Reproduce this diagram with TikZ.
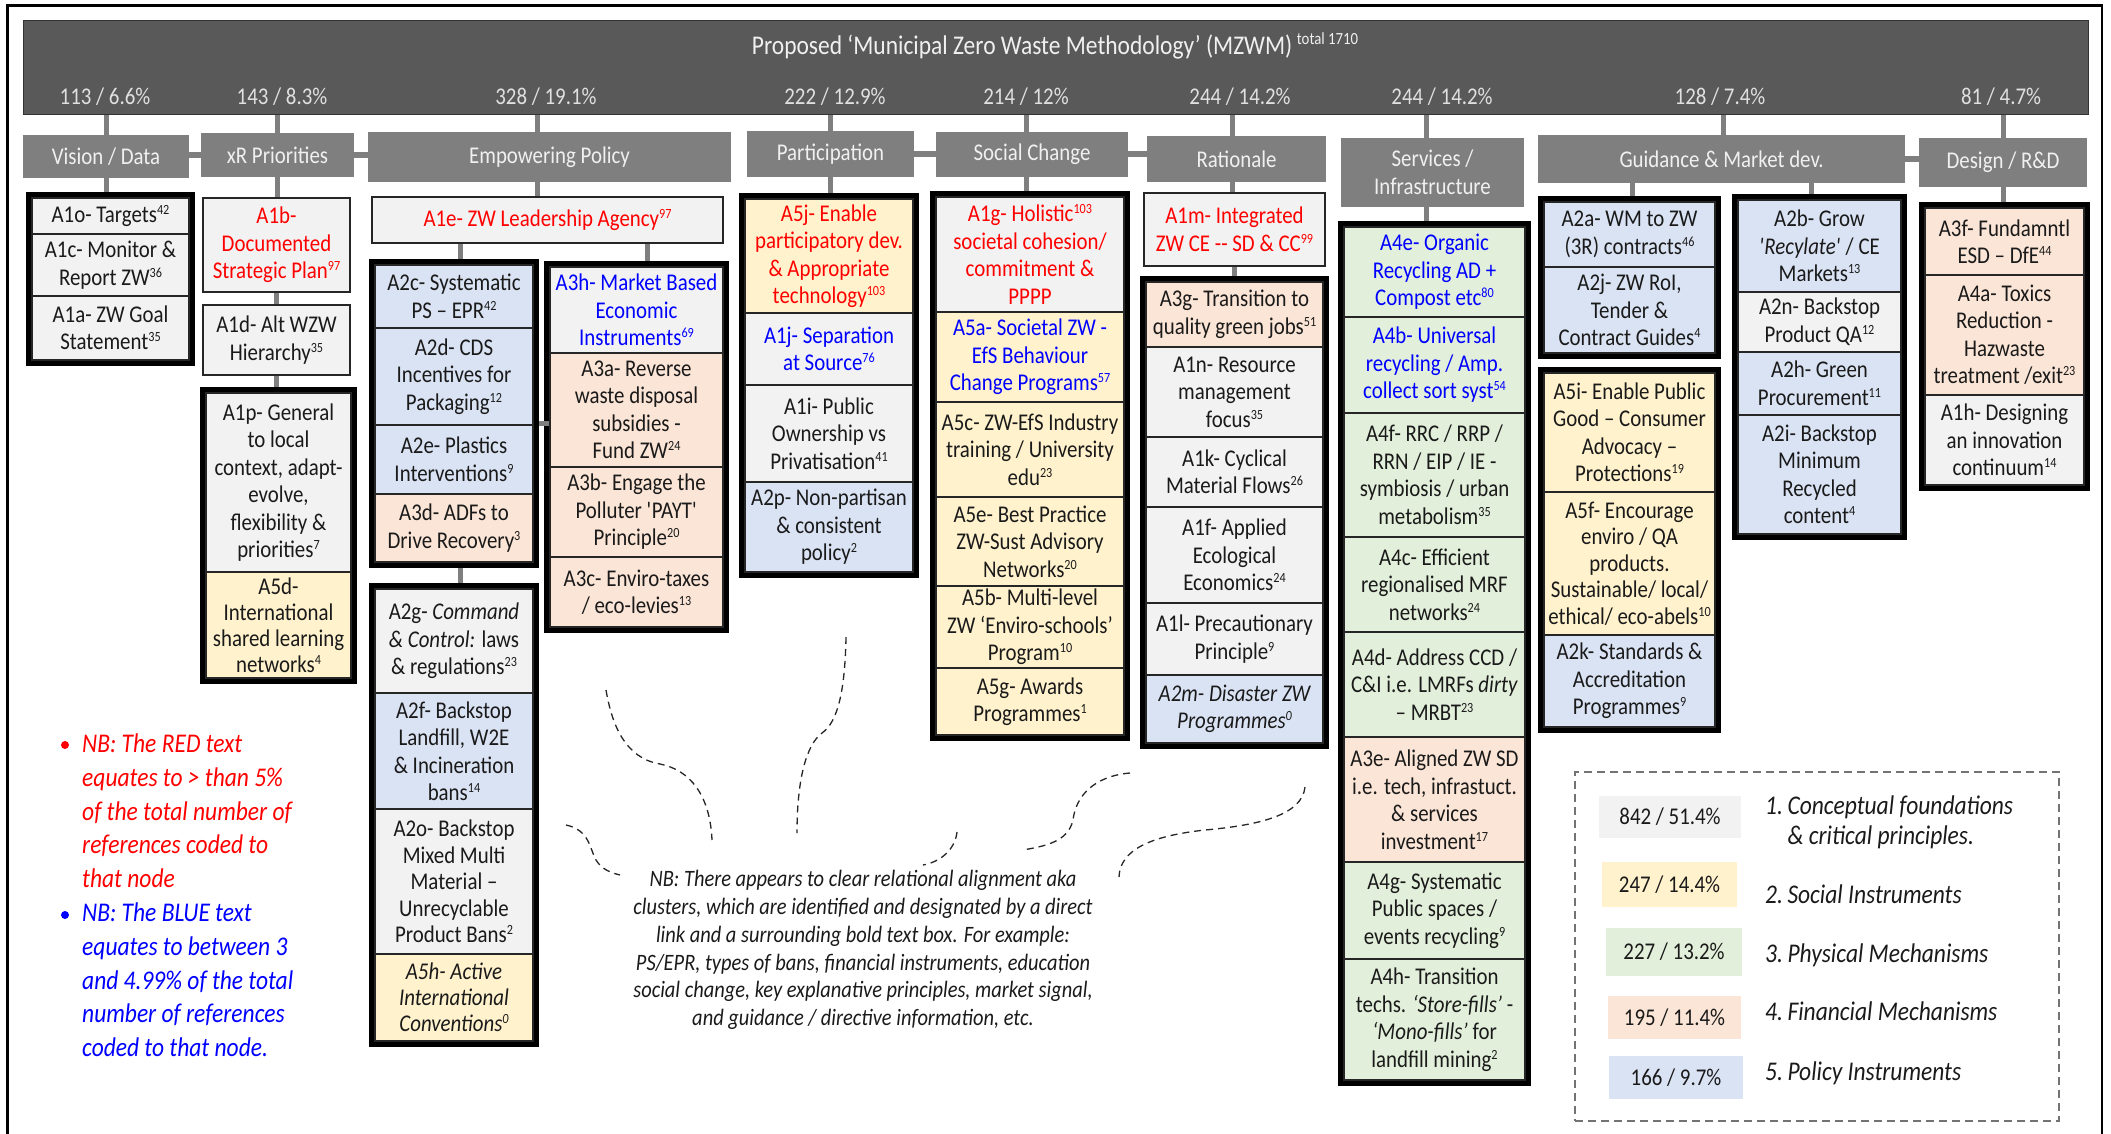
\documentclass[tikz,border=0pt]{standalone}
\usepackage{fontspec}
\setmainfont{Carlito}[FakeStretch=0.87]
\usetikzlibrary{fit}

\definecolor{titlegray}{HTML}{595959}
\definecolor{hdrgray}{HTML}{7F7F7F}
\definecolor{conngray}{HTML}{7F7F7F}
\definecolor{cgray}{HTML}{F2F2F2}
\definecolor{cyellow}{HTML}{FFF2CC}
\definecolor{cgreen}{HTML}{E2EFDA}
\definecolor{cpeach}{HTML}{FBE5D6}
\definecolor{cblue}{HTML}{DAE3F3}
\definecolor{zred}{HTML}{FF0000}
\definecolor{zblue}{HTML}{0000FF}
\definecolor{ink}{HTML}{1A1A1A}

% font sizes (1pt = one unit of the drawing grid)
\newcommand\bxf{\fontsize{24}{27.5}\selectfont}
\newcommand\nbf{\fontsize{27}{33.7}\selectfont\itshape}
\newcommand\midf{\fontsize{23.5}{27.8}\selectfont\itshape}
\newcommand\lgf{\fontsize{27}{30}\selectfont\itshape}
\newcommand\ttlf{\fontsize{27}{30}\selectfont}
\newcommand\supn[1]{\raisebox{8pt}{\fontsize{14}{14}\selectfont #1}}
\newcommand\supt[1]{\raisebox{10pt}{\fontsize{17}{17}\selectfont #1}}

\begin{document}
\begin{tikzpicture}[x=1pt,y=-1pt,
  spanbox/.style n args={4}{at={({(#1+#3)/2},{(#2+#4)/2})},
      minimum width={(#3-#1)*1pt}, minimum height={(#4-#2)*1pt}},
  cellbox/.style={draw=black!85, line width=1.4pt, inner sep=0pt, align=center, font=\bxf, text=ink},
  cg/.style={cellbox, fill=cgray},
  cy/.style={cellbox, fill=cyellow},
  cgn/.style={cellbox, fill=cgreen},
  cp/.style={cellbox, fill=cpeach},
  cb/.style={cellbox, fill=cblue},
  redtxt/.style={text=zred},
  bluetxt/.style={text=zblue},
  grp/.style={draw=black, line width=5pt, inner sep=2.5pt},
  hdr/.style={fill=hdrgray, text=white!94!black, inner sep=0pt, align=center, font=\bxf},
  conn/.style={draw=conngray, line width=5pt},
  cnt/.style={text=white!88!black, font=\bxf, inner sep=0pt},
  sw/.style={inner sep=0pt, font=\bxf, text=ink},
  lbl/.style={inner sep=0pt, font=\lgf, text=ink, align=left},
  curl/.style={draw=black!85, line width=1.3pt, dash pattern=on 7pt off 5pt}
]
\useasboundingbox (0,0) rectangle (2111,1134);

% outer frame
\draw[line width=2.5pt] (7.5,1160) -- (7.5,5.5) -- (2102,5.5) -- (2102,1160);

% title bar with totals
\node[fill=titlegray, draw=black!80, line width=1pt, inner sep=0pt, spanbox={23}{21}{2088}{115}] (title) {};
\node[text=white!94!black, font=\ttlf, inner sep=0pt] (ttltxt) at (1055,46)
  {Proposed ‘Municipal Zero Waste Methodology’ (MZWM)\,\supt{total 1710}};
\node[cnt] (n1) at (105,97) {113 / 6.6\%};
\node[cnt] (n2) at (282,97) {143 / 8.3\%};
\node[cnt] (n3) at (546,97) {328 / 19.1\%};
\node[cnt] (n4) at (835,97) {222 / 12.9\%};
\node[cnt] (n5) at (1026,97) {214 / 12\%};
\node[cnt] (n6) at (1240,97) {244 / 14.2\%};
\node[cnt] (n7) at (1442,97) {244 / 14.2\%};
\node[cnt] (n8) at (1720,97) {128 / 7.4\%};
\node[cnt] (n9) at (2001,97) {81 / 4.7\%};

% category headers
\node[hdr, spanbox={23}{135}{189}{178}] (hvis) {Vision / Data};
\node[hdr, spanbox={201}{133}{354}{177}] (hxr) {xR Priorities};
\node[hdr, spanbox={368}{132}{731}{182}] (hemp) {Empowering Policy};
\node[hdr, spanbox={747}{131}{914}{177}] (hpart) {Participation};
\node[hdr, spanbox={936}{132}{1128}{177}] (hsoc) {Social Change};
\node[hdr, spanbox={1147}{136}{1326}{182}] (hrat) {Rationale};
\node[hdr, spanbox={1341}{138}{1524}{207}] (hser) {Services /\\Infrastructure};
\node[hdr, spanbox={1538}{135}{1905}{183}] (hgui) {Guidance \& Market dev.};
\node[hdr, spanbox={1919}{138}{2087}{187}] (hdes) {Design / R\&D};

% ---- Vision / Data
\node[cg, spanbox={32}{198}{189}{234}] (a1o) {A1o- Targets\supn{42}};
\node[cg, spanbox={32}{234}{189}{296}] (a1c) {A1c- Monitor \&\\Report ZW\supn{36}};
\node[cg, spanbox={32}{296}{189}{360}] (a1a) {A1a- ZW Goal\\Statement\supn{35}};
\node[grp, fit=(a1o)(a1a)] (g1) {};

% ---- xR Priorities
\node[cg, redtxt, spanbox={203}{198}{350}{292}] (a1b) {A1b-\\Documented\\Strategic Plan\supn{97}};
\node[cg, spanbox={203}{305}{350}{375}] (a1d) {A1d- Alt WZW\\Hierarchy\supn{35}};
\node[cg, spanbox={206}{393}{351}{572}] (a1p) {A1p- General\\to local\\context, adapt-\\evolve,\\flexibility \&\\priorities\supn{7}};
\node[cy, spanbox={206}{572}{351}{678}, font=\fontsize{24}{26}\selectfont] (a5d) {A5d-\\International\\shared learning\\networks\supn{4}};
\node[grp, fit=(a1p)(a5d)] (g2) {};

% ---- Empowering Policy
\node[cg, redtxt, spanbox={372}{197}{723}{243}] (a1e) {A1e- ZW Leadership Agency\supn{97}};
\node[cb, spanbox={375}{265}{533}{328}] (a2c) {A2c- Systematic\\PS -- EPR\supn{42}};
\node[cb, spanbox={375}{328}{533}{425}] (a2d) {A2d- CDS\\Incentives for\\Packaging\supn{12}};
\node[cb, spanbox={375}{425}{533}{494}] (a2e) {A2e- Plastics\\Interventions\supn{9}};
\node[cp, spanbox={375}{494}{533}{562}] (a3d) {A3d- ADFs to\\Drive Recovery\supn{3}};
\node[grp, fit=(a2c)(a3d)] (g3a) {};
\node[cg, spanbox={375}{589}{533}{693}] (a2g) {A2g- \textit{Command}\\\textit{\& Control:} laws\\\& regulations\supn{23}};
\node[cb, spanbox={375}{693}{533}{809}] (a2f) {A2f- Backstop\\Landfill, W2E\\\& Incineration\\bans\supn{14}};
\node[cg, spanbox={375}{809}{533}{954}, font=\fontsize{24}{26.5}\selectfont] (a2o) {A2o- Backstop\\Mixed Multi\\Material --\\Unrecyclable\\Product Bans\supn{2}};
\node[cy, spanbox={375}{954}{533}{1041}, font=\fontsize{24}{26}\selectfont\itshape] (a5h) {A5h- Active\\International\\Conventions\supn{0}};
\node[grp, fit=(a2g)(a5h)] (g3b) {};
\node[cg, bluetxt, spanbox={550}{267}{723}{353}] (a3h) {A3h- Market Based\\Economic\\Instruments\supn{69}};
\node[cp, spanbox={550}{353}{723}{467}] (a3a) {A3a- Reverse\\waste disposal\\subsidies -\\Fund ZW\supn{24}};
\node[cp, spanbox={550}{467}{723}{557}] (a3b) {A3b- Engage the\\Polluter \textquotesingle PAYT\textquotesingle\\Principle\supn{20}};
\node[cp, spanbox={550}{557}{723}{627}] (a3c) {A3c- Enviro-taxes\\/ eco-levies\supn{13}};
\node[grp, fit=(a3h)(a3c)] (g3c) {};

% ---- Participation
\node[cy, redtxt, spanbox={745}{199}{913}{313}] (a5j) {A5j- Enable\\participatory dev.\\\& Appropriate\\technology\supn{103}};
\node[cg, bluetxt, spanbox={745}{313}{913}{385}] (a1j) {A1j- Separation\\at Source\supn{76}};
\node[cg, spanbox={745}{385}{913}{482}] (a1i) {A1i- Public\\Ownership vs\\Privatisation\supn{41}};
\node[cb, spanbox={745}{482}{913}{572}] (a2p) {A2p- Non-partisan\\\& consistent\\policy\supn{2}};
\node[grp, fit=(a5j)(a2p)] (g4) {};

% ---- Social Change
\node[cg, redtxt, spanbox={936}{197}{1124}{312}] (a1g) {A1g- Holistic\supn{103}\\societal cohesion/\\commitment \&\\PPPP};
\node[cy, bluetxt, spanbox={936}{312}{1124}{402}] (a5a) {A5a- Societal ZW -\\EfS Behaviour\\Change Programs\supn{57}};
\node[cy, spanbox={936}{402}{1124}{497}] (a5c) {A5c- ZW-EfS Industry\\training / University\\edu\supn{23}};
\node[cy, spanbox={936}{497}{1124}{586}] (a5e) {A5e- Best Practice\\ZW-Sust Advisory\\Networks\supn{20}};
\node[cy, spanbox={936}{586}{1124}{668}] (a5b) {A5b- Multi-level\\ZW ‘Enviro-schools’\\Program\supn{10}};
\node[cy, spanbox={936}{668}{1124}{735}] (a5g) {A5g- Awards\\Programmes\supn{1}};
\node[grp, fit=(a1g)(a5g)] (g5) {};

% ---- Rationale
\node[cg, redtxt, spanbox={1144}{193}{1325}{266}] (a1m) {A1m- Integrated\\ZW CE -{}- SD \& CC\supn{99}};
\node[cp, spanbox={1146}{282}{1323}{347}] (a3g) {A3g- Transition to\\quality green jobs\supn{51}};
\node[cg, spanbox={1146}{347}{1323}{437}] (a1n) {A1n- Resource\\management\\focus\supn{35}};
\node[cg, spanbox={1146}{437}{1323}{507}] (a1k) {A1k- Cyclical\\Material Flows\supn{26}};
\node[cg, spanbox={1146}{507}{1323}{603}] (a1f) {A1f- Applied\\Ecological\\Economics\supn{24}};
\node[cg, spanbox={1146}{603}{1323}{675}] (a1l) {A1l- Precautionary\\Principle\supn{9}};
\node[cb, spanbox={1146}{675}{1323}{743}, font=\bxf\itshape] (a2m) {A2m- Disaster ZW\\Programmes\supn{0}};
\node[grp, fit=(a3g)(a2m)] (g6) {};

% ---- Services / Infrastructure
\node[cgn, bluetxt, spanbox={1344}{227}{1525}{317}] (a4e) {A4e- Organic\\Recycling AD +\\Compost etc\supn{80}};
\node[cgn, bluetxt, spanbox={1344}{317}{1525}{413}] (a4b) {A4b- Universal\\recycling / Amp.\\collect sort syst\supn{54}};
\node[cgn, spanbox={1344}{413}{1525}{537}] (a4f) {A4f- RRC / RRP /\\RRN / EIP / IE -\\symbiosis / urban\\metabolism\supn{35}};
\node[cgn, spanbox={1344}{537}{1525}{632}] (a4c) {A4c- Efficient\\regionalised MRF\\networks\supn{24}};
\node[cgn, spanbox={1344}{632}{1525}{737}] (a4d) {A4d- Address CCD /\\C\&I i.e. LMRFs \textit{dirty}\\-- MRBT\supn{23}};
\node[cp, spanbox={1344}{737}{1525}{862}] (a3e) {A3e- Aligned ZW SD\\i.e. tech, infrastuct.\\\& services\\investment\supn{17}};
\node[cgn, spanbox={1344}{862}{1525}{959}] (a4g) {A4g- Systematic\\Public spaces /\\events recycling\supn{9}};
\node[cgn, spanbox={1344}{959}{1525}{1080}] (a4h) {A4h- Transition\\techs. \textit{‘Store-fills’} -\\\textit{‘Mono-fills’} for\\landfill mining\supn{2}};
\node[grp, fit=(a4e)(a4h)] (g7) {};

% ---- Guidance & Market dev.
\node[cb, spanbox={1544}{202}{1715}{267}] (a2a) {A2a- WM to ZW\\(3R) contracts\supn{46}};
\node[cb, spanbox={1544}{267}{1715}{353}] (a2j) {A2j- ZW RoI,\\Tender \&\\Contract Guides\supn{4}};
\node[grp, fit=(a2a)(a2j)] (g8a) {};
\node[cy, spanbox={1544}{373}{1715}{492}] (a5i) {A5i- Enable Public\\Good -- Consumer\\Advocacy --\\Protections\supn{19}};
\node[cy, spanbox={1544}{492}{1715}{635}, font=\fontsize{24}{26.5}\selectfont] (a5f) {A5f- Encourage\\enviro / QA\\products.\\Sustainable/ local/\\ethical/ eco-abels\supn{10}};
\node[cb, spanbox={1544}{635}{1715}{727}] (a2k) {A2k- Standards \&\\Accreditation\\Programmes\supn{9}};
\node[grp, fit=(a5i)(a2k)] (g8b) {};
\node[cb, spanbox={1738}{200}{1901}{292}] (a2b) {A2b- Grow\\\textit{\textquotesingle Recylate\textquotesingle} / CE\\Markets\supn{13}};
\node[cg, spanbox={1738}{292}{1901}{352}] (a2n) {A2n- Backstop\\Product QA\supn{12}};
\node[cb, spanbox={1738}{352}{1901}{415}] (a2h) {A2h- Green\\Procurement\supn{11}};
\node[cb, spanbox={1738}{415}{1901}{534}] (a2i) {A2i- Backstop\\Minimum\\Recycled\\content\supn{4}};
\node[grp, fit=(a2b)(a2i)] (g8c) {};

% ---- Design / R&D
\node[cp, spanbox={1925}{208}{2084}{275}] (a3f) {A3f- Fundamntl\\ESD -- DfE\supn{44}};
\node[cp, spanbox={1925}{275}{2084}{395}] (a4a) {A4a- Toxics\\Reduction -\\Hazwaste\\treatment /exit\supn{23}};
\node[cg, spanbox={1925}{395}{2084}{485}] (a1h) {A1h- Designing\\an innovation\\continuum\supn{14}};
\node[grp, fit=(a3f)(a1h)] (g9) {};

% ---- connectors: title bar to headers
\draw[conn] (hvis.north) -- (hvis.north |- title.south);
\draw[conn] (hxr.north) -- (hxr.north |- title.south);
\draw[conn] ([xshift=-12pt]hemp.north) -- ([xshift=-12pt]hemp.north |- title.south);
\draw[conn] (hpart.north) -- (hpart.north |- title.south);
\draw[conn] ([xshift=-6pt]hsoc.north) -- ([xshift=-6pt]hsoc.north |- title.south);
\draw[conn] ([xshift=-4pt]hrat.north) -- ([xshift=-4pt]hrat.north |- title.south);
\draw[conn] ([xshift=-6pt]hser.north) -- ([xshift=-6pt]hser.north |- title.south);
\draw[conn] ([xshift=2pt]hgui.north) -- ([xshift=2pt]hgui.north |- title.south);
\draw[conn] (hdes.north) -- (hdes.north |- title.south);

% header to header links
\draw[conn, line width=6pt] (hxr.west) -- (hxr.west -| hvis.east);
\draw[conn, line width=6pt] (hxr.east) -- (hxr.east -| hemp.west);
\draw[conn, line width=6pt] (hpart.east) -- (hpart.east -| hsoc.west);
\draw[conn, line width=6pt] (hsoc.east) -- (hsoc.east -| hrat.west);
\draw[conn, line width=6pt] (hgui.east) -- (hgui.east -| hdes.west);

% headers to boxes and clusters
\draw[conn] (hvis.south) -- (hvis.south |- g1.north);
\draw[conn] (hxr.south) -- (hxr.south |- a1b.north);
\draw[conn] (a1b.south) -- (a1b.south |- a1d.north);
\draw[conn] (a1d.south) -- (a1d.south |- g2.north);
\draw[conn] ([xshift=-12pt]hemp.south) -- ([xshift=-12pt]hemp.south |- a1e.north);
\draw[conn] ([xshift=6pt]g3a.north) -- ([xshift=6pt]g3a.north |- a1e.south);
\draw[conn] ([xshift=6pt]g3b.north) -- ([xshift=6pt]g3b.north |- g3a.south);
\draw[conn] ([xshift=11pt]g3c.north) -- ([xshift=11pt]g3c.north |- a1e.south);
\draw[conn] ([yshift=-13pt]a3a.west) -- ([yshift=-13pt]a3a.west -| g3a.east);
\draw[conn] (hpart.south) -- (hpart.south |- g4.north);
\draw[conn] ([xshift=-6pt]hsoc.south) -- ([xshift=-6pt]hsoc.south |- g5.north);
\draw[conn] ([xshift=-4pt]hrat.south) -- ([xshift=-4pt]hrat.south |- a1m.north);
\draw[conn] (a1m.south) -- (a1m.south |- g6.north);
\draw[conn] ([xshift=-6pt]hser.south) -- ([xshift=-6pt]hser.south |- g7.north);
\draw[conn] ([xshift=3pt]g8a.north) -- ([xshift=3pt]g8a.north |- hgui.south);
\draw[conn] ([xshift=-8pt]g8c.north) -- ([xshift=-8pt]g8c.north |- hgui.south);
\draw[conn] (hdes.south) -- (hdes.south |- g9.north);

% ---- notes on the left
\node[circle, fill=zred, inner sep=0pt, minimum size=8pt] (bulr) at (65,745) {};
\node[anchor=west, inner sep=0pt, align=left, font=\nbf, text=zred] (nbred) at (82,811)
  {NB: The RED text\\equates to > than 5\%\\of the total number of\\references coded to\\that node};
\node[circle, fill=zblue, inner sep=0pt, minimum size=8pt] (bulb) at (65,915) {};
\node[anchor=west, inner sep=0pt, align=left, font=\nbf, text=zblue] (nbblue) at (82,980)
  {NB: The BLUE text\\equates to between 3\\and 4.99\% of the total\\number of references\\coded to that node.};

% ---- dashed cluster brackets around the central note
\draw[curl] (606,690) .. controls (612,725) and (625,758) .. (660,764) .. controls (690,770) and (710,795) .. (712,840);
\draw[curl] (846,637) .. controls (845,690) and (838,722) .. (822,733) .. controls (806,745) and (797,780) .. (797,833);
\draw[curl] (566,825) .. controls (590,830) and (590,850) .. (596,860) .. controls (602,870) and (612,873) .. (620,875);
\draw[curl] (957,832) .. controls (955,850) and (940,862) .. (923,865);
\draw[curl] (1130,773) .. controls (1095,776) and (1076,795) .. (1073,820) .. controls (1068,842) and (1045,846) .. (1023,850);
\draw[curl] (1305,787) .. controls (1302,815) and (1260,825) .. (1205,830) .. controls (1150,836) and (1120,850) .. (1119,877);

\node[inner sep=0pt, align=center, font=\midf, text=ink] (nbmid) at (863,950)
  {NB: There appears to clear relational alignment aka\\
   clusters, which are identified and designated by a direct\\
   link and a surrounding bold text box. For example:\\
   PS/EPR, types of bans, financial instruments, education\\
   social change, key explanative principles, market signal,\\
   and guidance / directive information, etc.};

% ---- legend
\node[draw=black!55, line width=1.5pt, dash pattern=on 8pt off 5pt, inner sep=0pt, spanbox={1575}{772}{2059}{1121}] (legend) {};
\node[sw, fill=cgray, spanbox={1599}{796}{1741}{838}] (k1) {842 / 51.4\%};
\node[sw, fill=cyellow, spanbox={1602}{862}{1737}{907}] (k2) {247 / 14.4\%};
\node[sw, fill=cgreen, spanbox={1606}{928}{1742}{976}] (k3) {227 / 13.2\%};
\node[sw, fill=cpeach, spanbox={1608}{996}{1741}{1039}] (k4) {195 / 11.4\%};
\node[sw, fill=cblue, spanbox={1609}{1056}{1743}{1099}] (k5) {166 / 9.7\%};
\node[lbl, anchor=north west] (t1) at (1765,796) {1.\,Conceptual foundations\\\hphantom{1.\,}\& critical principles.};
\node[lbl, anchor=base west] (t2) at (1765,903) {2.\,Social Instruments};
\node[lbl, anchor=base west] (t3) at (1765,962) {3.\,Physical Mechanisms};
\node[lbl, anchor=base west] (t4) at (1765,1020) {4.\,Financial Mechanisms};
\node[lbl, anchor=base west] (t5) at (1765,1080) {5.\,Policy Instruments};

\end{tikzpicture}
\end{document}
